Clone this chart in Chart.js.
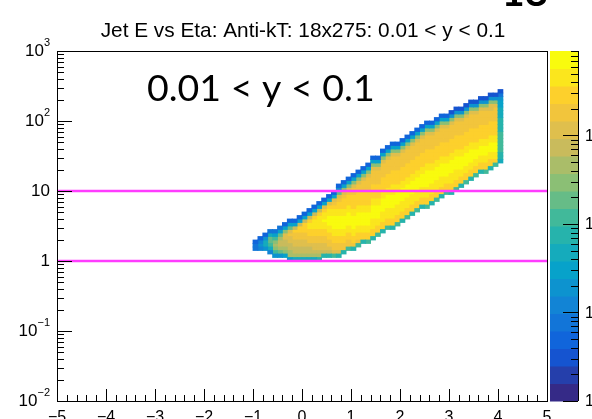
<!DOCTYPE html>
<html>
<head>
<meta charset="utf-8">
<script src="https://cdn.jsdelivr.net/npm/chart.js@4.4.1/dist/chart.umd.min.js"></script>
<style>
  html, body { margin: 0; padding: 0; background: #fff; }
  canvas { display: block; }
</style>
</head>
<body>
<canvas id="chart" width="592" height="419"></canvas>
<script>
// texts
const titleText = 'Jet E vs Eta: Anti-kT: 18x275: 0.01 < y < 0.1';
const noteText = '0.01 < y < 0.1';
const pageNumber = '18';

// eta bins (lower edges, width 0.1) that have entries
const etaBins = [-1.0, -0.9, -0.8, -0.7, -0.6, -0.5, -0.4, -0.3, -0.2, -0.1,
  0.0, 0.1, 0.2, 0.3, 0.4, 0.5, 0.6, 0.7, 0.8, 0.9,
  1.0, 1.1, 1.2, 1.3, 1.4, 1.5, 1.6, 1.7, 1.8, 1.9,
  2.0, 2.1, 2.2, 2.3, 2.4, 2.5, 2.6, 2.7, 2.8, 2.9,
  3.0, 3.1, 3.2, 3.3, 3.4, 3.5, 3.6, 3.7, 3.8, 3.9, 4.0];
const etaWidth = 0.1;

// energy bins are log10 E in steps of 0.05; first filled bin of every eta column
const logEWidth = 0.05;
const firstRow = [3, 3, 3, 2, 1, 1, 1, 0, 0, 0,
  0, 0, 0, 0, 1, 1, 1, 1, 2, 3,
  3, 4, 5, 5, 6, 7, 8, 9, 9, 10,
  11, 12, 13, 14, 15, 15, 16, 17, 18, 19,
  19, 20, 21, 22, 23, 24, 25, 25, 26, 27, 28];

// colour band (0..19, base 36 digit) of each cell, bottom to top
const cellLevels = [
  '443', '5653', '68863', '58abb84', '6acdca74',
  '6bdeedb74', '7cdeeffc73', '7ddeeffgfb73', '8deeffgghe73', '8deeffgghhe73',
  '8deeffgghhhe73', '8deefgghhiihe73', '8deffgghhiiihe73', '9deffgghhiiiihe73', '9effgghhiijiihf73',
  '9efgghhiijjjiihf73', 'afgghhiijjjjiihgf73', '9fgghhiijjjjiihhgfb63', '9gghhiijjjjiihhhgfc73', 'agghhiijjjjiihhhgfc73',
  '9ghhiijjjjiihhhhggfc73', 'aghhiijjjjiihhhhggfc73', '9hhiijjjjiihhhhgggfc73', 'ahhiijjjjiihhhhggggfc73', '9hhiiijjjjiihhhhggggfc73',
  'ahhiijjjjiihhhhggggfc73', '9hhiiijjjjiihhhhggggfc73', 'ahhiiijjjjiihhhhggggfc73', '9hhiiijjjjiiihhhhggggfc73', 'ahhiiijjjjiihhhhggggfc73',
  '9hhiiijjjjiihhhhggggfc73', 'ahhiiijjjjiihhhhggggfc73', '9hhiiijjjjiihhhhggggfc73', 'ahhiiijjjjiihhhhggggfc73', '9hhiiijjjjiihhhhggggfc73',
  'ahhiiijjjjjiihhhhggggfc73', '9hhiiijjjjiihhhhggggfc73', 'ahhiiijjjjiihhhhggggfc73', '9hhiiijjjjiihhhhggggfc73', 'ahhiijjjjiihhhhggggfc73',
  '9hhiiijjjjiihhhhggggfc62', 'ahhiiijjjjiihhhhggggfc62', '9hhiijjjjiihhhhggggfc62', 'ahhiijjjjiihhhhggggfc62', '9hhiijjjjiihhhhggggfc62',
  'ahhiijjjiihhhhggggfc62', '9hhiijjjiihhhhggggfc62', 'ahhiijjjiihhhhggggfc62', '9hhiijjjiihhhhgggffc62', 'ahiijjjiihhhhggggfc62',
  '899aaaaaa999988877642'
];

// cut lines in E
const cutLines = [1, 10];

// axes
const xTicks = [-5, -4, -3, -2, -1, 0, 1, 2, 3, 4, 5];
const yDecades = [-2, -1, 0, 1, 2, 3];
const zDecades = [0, 1, 2, 3];
const zMax = 9000;
const nLevels = 20;

// ROOT kBird palette
const birdStops = [0.0, 0.125, 0.25, 0.375, 0.5, 0.625, 0.75, 0.875, 1.0];
const birdR = [0.2082, 0.0592, 0.0780, 0.0232, 0.1802, 0.5301, 0.8186, 0.9956, 0.9764];
const birdG = [0.1664, 0.3599, 0.5041, 0.6419, 0.7178, 0.7492, 0.7328, 0.7862, 0.9832];
const birdB = [0.5293, 0.8684, 0.8385, 0.7914, 0.6425, 0.4662, 0.3499, 0.1968, 0.0539];

const birdColor = (t) => {
  let i = 0;
  while (i < birdStops.length - 2 && t > birdStops[i + 1]) i++;
  const f = (t - birdStops[i]) / (birdStops[i + 1] - birdStops[i]);
  const mix = (a) => Math.round(255 * (a[i] + (a[i + 1] - a[i]) * f));
  return `rgb(${mix(birdR)},${mix(birdG)},${mix(birdB)})`;
};
const levelColors = Array.from({ length: nLevels }, (_, i) => birdColor(i / (nLevels - 1)));

// one bar dataset per colour band, each cell is a floating bar
const cellSets = levelColors.map(color => ({
  type: 'bar',
  data: [],
  backgroundColor: color,
  order: 2
}));
etaBins.forEach((eta, k) => {
  const x = eta + etaWidth / 2;
  [...cellLevels[k]].forEach((ch, i) => {
    const row = firstRow[k] + i;
    cellSets[parseInt(ch, 36)].data.push({
      x,
      y: [Math.pow(10, row * logEWidth), Math.pow(10, (row + 1) * logEWidth)]
    });
  });
});

const lineSets = cutLines.map(e => ({
  type: 'line',
  data: [{ x: -5, y: e }, { x: 5, y: e }],
  borderColor: '#ff3cff',
  borderWidth: 2.5,
  pointRadius: 0,
  order: 0
}));

const FONT = '"Liberation Sans", Arial, Helvetica, sans-serif';

const drawPower = (ctx, d, right, py, big, small) => {
  // "10^d" right aligned at `right`, centered on py
  ctx.textBaseline = 'middle';
  ctx.textAlign = 'left';
  if (d === 0 || d === 1) {
    ctx.font = `${big}px ${FONT}`;
    const s = d === 0 ? '1' : '10';
    ctx.fillText(s, right - ctx.measureText(s).width, py);
    return;
  }
  const exp = d < 0 ? '\u2212' + (-d) : String(d);
  ctx.font = `${small}px ${FONT}`;
  const ew = ctx.measureText(exp).width;
  ctx.fillText(exp, right - ew, py - big * 0.45);
  ctx.font = `${big}px ${FONT}`;
  const mw = ctx.measureText('10').width;
  ctx.fillText('10', right - ew - mw, py);
};

const rootFrame = {
  id: 'rootFrame',
  afterDraw(chart) {
    const { ctx, chartArea: a, scales: { x, y, z } } = chart;
    ctx.save();

    // colour palette
    const zLeft = a.right + 3, zRight = a.right + 31;
    const zTop = Math.log10(zMax);
    for (let i = 0; i < nLevels; i++) {
      const p0 = z.getPixelForValue(Math.pow(10, zTop * i / nLevels));
      const p1 = z.getPixelForValue(Math.pow(10, zTop * (i + 1) / nLevels));
      ctx.fillStyle = levelColors[i];
      ctx.fillRect(zLeft, p1, zRight - zLeft, p0 - p1 + 0.5);
    }
    ctx.strokeStyle = '#000';
    ctx.lineWidth = 1;
    ctx.beginPath();
    ctx.moveTo(zRight + 0.5, a.top);
    ctx.lineTo(zRight + 0.5, a.bottom);
    zDecades.forEach(d => {
      for (let m = 1; m <= 9; m++) {
        const v = m * Math.pow(10, d);
        if (v > zMax) break;
        const py = Math.round(z.getPixelForValue(v)) + 0.5;
        ctx.moveTo(zRight, py);
        ctx.lineTo(zRight - (m === 1 ? 15 : 7), py);
      }
    });
    ctx.stroke();
    ctx.fillStyle = '#000';
    zDecades.forEach(d => {
      const py = z.getPixelForValue(Math.pow(10, d));
      ctx.font = `16px ${FONT}`;
      ctx.textBaseline = 'middle';
      ctx.textAlign = 'left';
      ctx.fillText(d === 0 ? '1' : '10', zRight + 7, py + 1);
    });

    // frame
    ctx.strokeStyle = '#000';
    ctx.lineWidth = 1;
    ctx.strokeRect(Math.round(a.left) + 0.5, Math.round(a.top) + 0.5,
      Math.round(a.right - a.left), Math.round(a.bottom - a.top));

    // y axis ticks
    ctx.beginPath();
    yDecades.forEach(d => {
      for (let m = 1; m <= 9; m++) {
        if (d === 3 && m > 1) break;
        const py = Math.round(y.getPixelForValue(m * Math.pow(10, d))) + 0.5;
        ctx.moveTo(a.left, py);
        ctx.lineTo(a.left + (m === 1 ? 15 : 7), py);
      }
    });
    // x axis ticks
    for (let i = 0; i <= 50; i++) {
      const v = -5 + i * 0.2;
      const px = Math.round(x.getPixelForValue(v)) + 0.5;
      ctx.moveTo(px, a.bottom);
      ctx.lineTo(px, a.bottom - (i % 5 === 0 ? 12 : 6));
    }
    ctx.stroke();

    // y labels
    ctx.fillStyle = '#000';
    yDecades.forEach(d => {
      drawPower(ctx, d, a.left - 7, y.getPixelForValue(Math.pow(10, d)), 17, 11);
    });

    // x labels
    ctx.font = `16px ${FONT}`;
    ctx.textAlign = 'center';
    ctx.textBaseline = 'alphabetic';
    xTicks.forEach(v => {
      const s = v < 0 ? '\u2212' + (-v) : String(v);
      ctx.fillText(s, x.getPixelForValue(v), a.bottom + 21);
    });

    // title
    ctx.font = `20.8px ${FONT}`;
    ctx.textAlign = 'center';
    ctx.fillText(titleText, (a.left + a.right) / 2 + 1, 37);

    // slide annotations
    ctx.font = '37.5px Lato, "Open Sans", sans-serif';
    ctx.textAlign = 'left';
    ctx.fillText(noteText, 147, 101);
    ctx.font = 'bold 40px Lato, sans-serif';
    ctx.textAlign = 'right';
    ctx.fillText(pageNumber, 548, 6);

    ctx.restore();
  }
};

new Chart(document.getElementById('chart').getContext('2d'), {
  type: 'bar',
  data: { datasets: [...cellSets, ...lineSets] },
  options: {
    responsive: false,
    animation: false,
    events: [],
    layout: { padding: { left: 57, top: 51, right: 45, bottom: 18 } },
    plugins: {
      legend: { display: false },
      tooltip: { enabled: false },
      title: { display: false }
    },
    datasets: {
      bar: {
        grouped: false,
        categoryPercentage: 1,
        barPercentage: 1,
        borderWidth: 0,
        inflateAmount: 0.4
      }
    },
    scales: {
      x: { type: 'linear', min: -5, max: 5, offset: false, display: false },
      y: { type: 'logarithmic', min: 0.01, max: 1000, display: false },
      z: { type: 'logarithmic', position: 'right', min: 1, max: zMax, display: false }
    }
  },
  plugins: [rootFrame]
});
</script>
</body>
</html>
